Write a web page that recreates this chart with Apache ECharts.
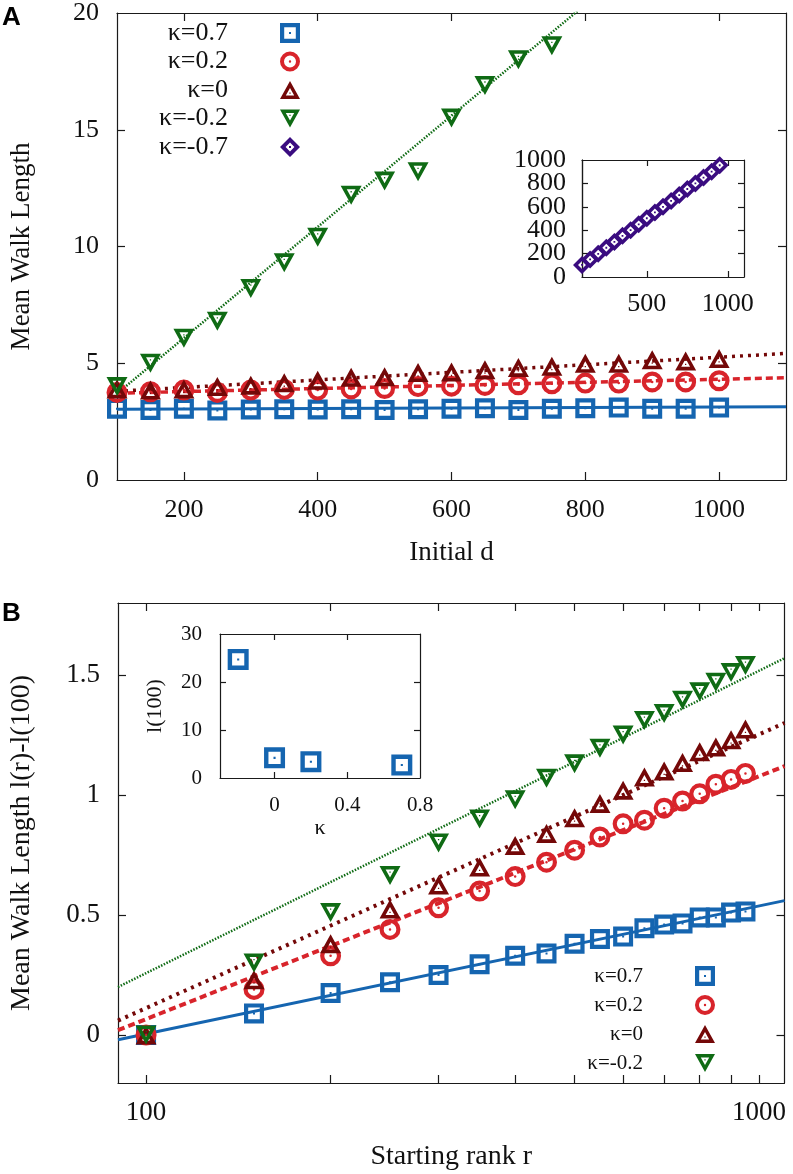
<!DOCTYPE html>
<html>
<head>
<meta charset="utf-8">
<script src="https://cdn.jsdelivr.net/npm/echarts@6/dist/echarts.min.js"></script>
<style>
  html, body { margin: 0; background: #fff; }
  #chart { width: 793px; height: 1174px; }
</style>
</head>
<body>
<div id="chart"></div>
<script>
// ---- panel A: mean walk length vs initial d ----
var dA = [100, 150, 200, 250, 300, 350, 400, 450, 500, 550, 600, 650, 700, 750, 800, 850, 900, 950, 1000];
var blueA = [3.05, 3.00, 3.05, 2.98, 3.02, 3.03, 3.02, 3.03, 3.00, 3.03, 3.05, 3.07, 3.00, 3.05, 3.07, 3.10, 3.05, 3.05, 3.10];
var redA = [3.75, 3.78, 3.85, 3.75, 3.85, 3.88, 3.85, 3.90, 3.92, 4.00, 4.02, 4.05, 4.08, 4.12, 4.15, 4.15, 4.20, 4.20, 4.25];
var darkA = [3.90, 3.85, 3.90, 4.00, 4.06, 4.16, 4.27, 4.40, 4.42, 4.60, 4.62, 4.72, 4.82, 4.87, 5.00, 5.00, 5.15, 5.10, 5.20];
var greenA = [4.0, 5.0, 6.07, 6.8, 8.2, 9.3, 10.4, 12.2, 12.8, 13.2, 15.5, 16.9, 18.0, 18.6];
// inset of A (kappa = -0.7)
var insetD = [100, 150, 200, 250, 300, 350, 400, 450, 500, 550, 600, 650, 700, 750, 800, 850, 900, 950];
var insetL = [103, 150, 198, 250, 300, 352, 400, 450, 502, 552, 600, 650, 700, 752, 800, 850, 900, 955];
// fitted lines of A
var fitAx = [100, 1100];
var fitBlueA = [3.03, 3.14];
var fitRedA = [3.72, 4.38];
var fitDarkA = [3.80, 5.42];
var fitGreenA = [3.70, 27.5];

// ---- panel B: l(r) - l(100) vs starting rank ----
var rB = [100, 150, 200, 250, 300, 350, 400, 450, 500, 550, 600, 650, 700, 750, 800, 850, 900, 950];
var blueB = [0, 0.09, 0.175, 0.22, 0.25, 0.295, 0.33, 0.34, 0.38, 0.40, 0.41, 0.445, 0.46, 0.465, 0.49, 0.49, 0.51, 0.515];
var redB = [0, 0.19, 0.33, 0.44, 0.53, 0.60, 0.66, 0.72, 0.77, 0.825, 0.88, 0.895, 0.945, 0.975, 1.005, 1.045, 1.065, 1.09];
var darkB = [0, 0.23, 0.38, 0.525, 0.625, 0.70, 0.79, 0.84, 0.905, 0.965, 1.02, 1.075, 1.10, 1.135, 1.18, 1.20, 1.23, 1.275];
var greenB = [0, 0.30, 0.51, 0.665, 0.80, 0.90, 0.98, 1.07, 1.13, 1.195, 1.25, 1.31, 1.34, 1.395, 1.43, 1.47, 1.51, 1.54];
// inset of B
var kappa = [-0.2, 0, 0.2, 0.7];
var l100 = [24.7, 4.2, 3.4, 2.7];
// fitted lines of B
var fitBx = [90, 1100];
var fitBlueB = [-0.02, 0.56];
var fitRedB = [0.02, 1.12];
var fitDarkB = [0.06, 1.30];
var fitGreenB = [0.20, 1.57];

// tick values
var ticksAx = [200, 400, 600, 800, 1000];
var labelsAy = [0, 5, 10, 15, 20];
var ticksAy = [5, 10, 15];
var ticksAinX = [500, 1000];
var labelsAinY1 = [0, 400, 800];     // inset labels are packed tightly, so they are
var labelsAinY2 = [200, 600, 1000];  // split over two coincident axes
var ticksAinY = [200, 400, 600, 800];
var labelsBx = [100, 1000];
var ticksBx = [100, 200, 300, 400, 500, 600, 700, 800, 900, 1000];
var ticksBy = [0, 0.5, 1, 1.5];
var labelsBinX = [0, 0.4, 0.8];
var ticksBinX = [0, 0.4];
var labelsBinY = [0, 10, 20, 30];
var ticksBinY = [10, 20];

var FONT = 'Liberation Serif';
var BLUE = '#1565b0', RED = '#d8242b', DARK = '#740808', GREEN = '#0f6b14', PURPLE = '#3a0c80';

// gnuplot-like hollow point types with centre dot
var SQ = 'path://M0,0H100V100H0Z M21,21V79H79V21Z M45,45H55V55H45Z';
var CI = 'path://M50,0A50,50,0,1,1,50,100A50,50,0,1,1,50,0Z M50,20A30,30,0,1,0,50,80A30,30,0,1,0,50,20Z M50,44A6,6,0,1,1,50,56A6,6,0,1,1,50,44Z';
var TU = 'path://M50,0L100,90H0Z M50,35L29,73H71Z M47,58H53V64H47Z';
var TD = 'path://M0,0H100L50,90Z M29,17L50,55L71,17Z M47,26H53V32H47Z';
var DI = 'path://M50,0L100,50L50,100L0,50Z M50,28L28,50L50,72L72,50Z M45,45H55V55H45Z';

function zip(xs, ys) {
  return ys.map(function (y, i) { return [xs[i], y]; });
}
function fmt(v) { return String(+Number(v).toFixed(6)); }

function frame(grid, pos, type, min, max, ticks, labels, fs, tickLen, margin, name, nameGap) {
  var ax = {
    gridIndex: grid, position: pos, type: type, min: min, max: max,
    axisLine: { show: true, onZero: false, lineStyle: { color: '#1a1a1a', width: 1.2 } },
    axisTick: ticks ? { show: true, inside: true, length: tickLen, customValues: ticks,
      lineStyle: { color: '#1a1a1a', width: 1.2 } } : { show: false },
    axisLabel: labels ? { show: true, customValues: labels, formatter: fmt, fontFamily: FONT,
      fontSize: fs, color: '#111', margin: margin,
      showMinLabel: true, showMaxLabel: true, hideOverlap: false } : { show: false },
    splitLine: { show: false }
  };
  if (type === 'log') ax.logBase = 10;
  if (name) {
    ax.name = name;
    ax.nameLocation = 'middle';
    ax.nameGap = nameGap;
    ax.nameTextStyle = { fontFamily: FONT, fontSize: fs + 1, color: '#111' };
  }
  return ax;
}

function fit(name, xs, ys, xi, yi, color, width, dash) {
  return {
    type: 'line', name: name, xAxisIndex: xi, yAxisIndex: yi, data: zip(xs, ys),
    showSymbol: false, symbol: 'none', silent: true, clip: true, z: 2,
    lineStyle: { color: color, width: width, type: dash, cap: 'butt' }
  };
}
function pts(name, xs, ys, xi, yi, color, symbol, size) {
  return {
    type: 'scatter', name: name, xAxisIndex: xi, yAxisIndex: yi, data: zip(xs, ys),
    symbol: symbol, symbolSize: size, itemStyle: { color: color, opacity: 1 }, z: 3
  };
}

var chart = echarts.init(document.getElementById('chart'), null, { renderer: 'canvas' });

chart.setOption({
  animation: false,
  backgroundColor: '#fff',
  grid: [
    { left: 110, top: 12, width: 676, height: 468 },
    { left: 582, top: 160, width: 162, height: 117 },
    { left: 110.5, top: 603, width: 674, height: 480 },
    { left: 220, top: 634, width: 200, height: 144 }
  ],
  xAxis: [
    frame(0, 'bottom', 'value', 100, 1100, ticksAx, ticksAx, 26, 8, 17, 'Initial d', 59),
    frame(0, 'top', 'value', 100, 1100, ticksAx, null, 26, 8),
    frame(1, 'bottom', 'value', 100, 1100, ticksAinX, ticksAinX, 26, 6, 14),
    frame(1, 'top', 'value', 100, 1100, ticksAinX, null, 26, 6),
    frame(2, 'bottom', 'log', 90, 1100, ticksBx, labelsBx, 27, 8, 16, 'Starting rank r', 60),
    frame(2, 'top', 'log', 90, 1100, ticksBx, null, 27, 8),
    frame(3, 'bottom', 'value', -0.3, 0.8, ticksBinX, labelsBinX, 21, 6, 17, 'κ', 27),
    frame(3, 'top', 'value', -0.3, 0.8, ticksBinX, null, 21, 6)
  ],
  yAxis: [
    frame(0, 'left', 'value', 0, 20, ticksAy, labelsAy, 26, 8, 18, 'Mean Walk Length', 82),
    frame(0, 'right', 'value', 0, 20, ticksAy, null, 26, 8),
    frame(1, 'left', 'value', 0, 1000, ticksAinY, labelsAinY1, 26, 6, 16),
    frame(1, 'right', 'value', 0, 1000, ticksAinY, null, 26, 6),
    frame(2, 'left', 'value', -0.2, 1.8, ticksBy, ticksBy, 27, 8, 18, 'Mean Walk Length l(r)-l(100)', 82),
    frame(2, 'right', 'value', -0.2, 1.8, ticksBy, null, 27, 8),
    frame(3, 'left', 'value', 0, 30, ticksBinY, labelsBinY, 21, 6, 18, 'l(100)', 54),
    frame(3, 'right', 'value', 0, 30, ticksBinY, null, 21, 6),
    frame(1, 'left', 'value', 0, 1000, null, labelsAinY2, 26, 6, 16)
  ],
  legend: [
    {
      data: ['κ=0.7', 'κ=0.2', 'κ=0', 'κ=-0.2', 'κ=-0.7'],
      orient: 'vertical', align: 'right', right: 493, top: 19, padding: 0,
      itemWidth: 20, itemHeight: 20, itemGap: 0.5, selectedMode: false,
      textStyle: { fontFamily: FONT, fontSize: 26, color: '#111', lineHeight: 28, padding: [0, 47, 0, 0] }
    },
    {
      data: ['κ=0.7', 'κ=0.2', 'κ=0', 'κ=-0.2'],
      orient: 'vertical', align: 'right', right: 78, top: 962, padding: 0,
      itemWidth: 20, itemHeight: 20, itemGap: 1, selectedMode: false,
      textStyle: { fontFamily: FONT, fontSize: 21, color: '#111', lineHeight: 28, padding: [0, 47, 0, 0] }
    }
  ],
  graphic: [
    { type: 'text', left: 2, top: 5, style: { text: 'A', font: 'bold 26px "Liberation Sans"', fill: '#000' } },
    { type: 'text', left: 2, top: 601, style: { text: 'B', font: 'bold 26px "Liberation Sans"', fill: '#000' } }
  ],
  series: [
    // panel A fits
    fit('fit A 0.7', fitAx, fitBlueA, 0, 0, BLUE, 3, 'solid'),
    fit('fit A 0.2', fitAx, fitRedA, 0, 0, RED, 3.5, [7, 4]),
    fit('fit A 0', fitAx, fitDarkA, 0, 0, DARK, 3.5, [3, 5]),
    fit('fit A -0.2', fitAx, fitGreenA, 0, 0, GREEN, 2.5, [1.5, 1.5]),
    // panel A points
    pts('κ=0.7', dA, blueA, 0, 0, BLUE, SQ, [20, 20]),
    pts('κ=0.2', dA, redA, 0, 0, RED, CI, [21, 21]),
    pts('κ=0', dA, darkA, 0, 0, DARK, TU, [21, 19]),
    pts('κ=-0.2', dA.slice(0, greenA.length), greenA, 0, 0, GREEN, TD, [21, 19]),
    pts('κ=-0.7', insetD, insetL, 2, 2, PURPLE, DI, [18, 18]),
    // panel B fits
    fit('fit B 0.7', fitBx, fitBlueB, 4, 4, BLUE, 3, 'solid'),
    fit('fit B 0.2', fitBx, fitRedB, 4, 4, RED, 4, [7, 4]),
    fit('fit B 0', fitBx, fitDarkB, 4, 4, DARK, 4, [3, 5]),
    fit('fit B -0.2', fitBx, fitGreenB, 4, 4, GREEN, 2.5, [1.5, 1.5]),
    // panel B points
    pts('κ=0.7', rB, blueB, 4, 4, BLUE, SQ, [20, 20]),
    pts('κ=0.2', rB, redB, 4, 4, RED, CI, [21, 21]),
    pts('κ=0', rB, darkB, 4, 4, DARK, TU, [21, 19]),
    pts('κ=-0.2', rB, greenB, 4, 4, GREEN, TD, [21, 19]),
    // inset of B
    pts('l(100)', kappa, l100, 6, 6, BLUE, SQ, [21, 21])
  ]
});
</script>
</body>
</html>
